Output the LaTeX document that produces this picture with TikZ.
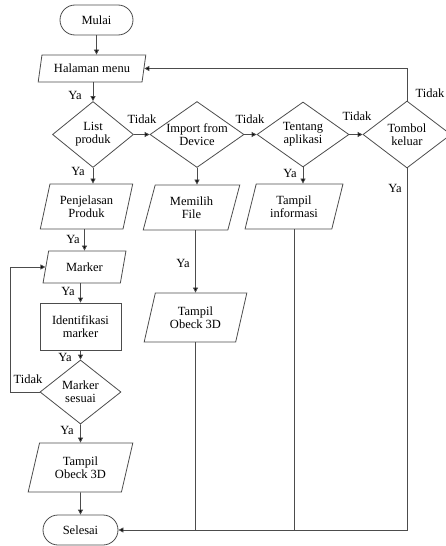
\documentclass[tikz,border=0pt]{standalone}
\usepackage{fontspec}
\setmainfont{Liberation Serif}
\usetikzlibrary{shapes.geometric,arrows.meta}
\newcommand{\flowfont}{\fontsize{12.5}{13}\selectfont}

\begin{document}
\begin{tikzpicture}[x=1pt,y=-1pt,
		line/.style={draw=black!70,line width=0.8pt},
		arr/.style={line,-{Triangle[length=5pt,width=5pt,fill=black]}},
		terminal/.style={line,rectangle,rounded corners=15pt,minimum height=30pt,font=\flowfont},
		io/.style={line,trapezium,trapezium left angle=72,trapezium right angle=108,trapezium stretches=true,align=center,inner sep=0pt,font=\flowfont},
		proc/.style={line,rectangle,align=center,font=\flowfont},
		cond/.style={line,diamond,align=center,inner sep=-5pt,font=\flowfont},
		lbl/.style={font=\flowfont,inner sep=0pt}]
			\useasboundingbox (0,0) rectangle (445,546);
			%start and end
			\node[terminal,minimum width=73pt] (mulai) at (96.5,20) {Mulai};
			\node[terminal,minimum width=75pt] (selesai) at (80.5,530) {Selesai};
			\node[io,minimum width=108pt,minimum height=27pt] (menu) at (92,68.5) {Halaman menu};
			
			%menu choices
			\node[cond,minimum width=81pt,minimum height=66pt] (list) at (93,134.5) {List\\produk};
			\node[cond,minimum width=94pt,minimum height=66pt] (import) at (197,134.5) {Import from\\Device};
			\node[cond,minimum width=92pt,minimum height=65pt] (tentang) at (303,134.5) {Tentang\\aplikasi};
			\node[cond,minimum width=88pt,minimum height=67pt] (tombol) at (407,134.5) {Tombol\\keluar};
			
			%list produk column
			\node[io,minimum width=93pt,minimum height=45pt] (penjelasan) at (86.5,206.5) {Penjelasan\\Produk};
			\node[io,minimum width=83pt,minimum height=32pt] (marker) at (84.5,267) {Marker};
			\node[proc,minimum width=81pt,minimum height=47pt] (identifikasi) at (80.5,326.5) {Identifikasi\\marker};
			\node[cond,minimum width=81pt,minimum height=64pt] (sesuai) at (80.5,392) {Marker\\sesuai};
			\node[io,minimum width=105pt,minimum height=49pt] (tampilA) at (80.5,467.5) {Tampil\\Obeck 3D};
			
			%import and tentang columns
			\node[io,minimum width=97pt,minimum height=45pt] (memilih) at (191.5,207.5) {Memilih\\File};
			\node[io,minimum width=103pt,minimum height=49pt] (tampilB) at (195.5,317.5) {Tampil\\Obeck 3D};
			\node[io,minimum width=98pt,minimum height=45pt] (info) at (294,206.5) {Tampil\\informasi};
			
			%arrows
			\draw[arr] (mulai.south) -- (mulai.south |- menu.north);
			\draw[arr] (menu.south -| list.north) -- (list.north);
			\draw[arr] (list.east) -- (import.west);
			\draw[arr] (import.east) -- (tentang.west);
			\draw[arr] (tentang.east) -- (tombol.west);
			\draw[arr] (tombol.north) |- (menu.east);
			\draw[arr] (list.south) -- (list.south |- penjelasan.north);
			\draw[arr] (penjelasan.south -| marker.north) -- (marker.north);
			\draw[arr] (identifikasi.north |- marker.south) -- (identifikasi.north);
			\draw[arr] (identifikasi) -- (sesuai);
			\draw[arr] (sesuai.west) -- ++(-29,0) |- (marker.west);
			\draw[arr] (sesuai) -- (tampilA);
			\draw[arr] (tampilA) -- (selesai);
			\draw[arr] (import.south) -- (import.south |- memilih.north);
			\draw[arr] (memilih.south -| tampilB) -- (tampilB.north -| tampilB);
			\draw[arr] (tentang.south) -- (tentang.south |- info.north);
			\draw[line] (info.south -| info) -- (info |- selesai);
			\draw[line] (tampilB.south -| tampilB) -- (tampilB |- selesai);
			\draw[arr] (tombol.south) |- (selesai.east);
			
			%labels
			\foreach \pos [count=\i] in {(75,95), (78,171), (290,173), (395,188), (73,239), (68,291), (65,357), (67,430), (183,263)}{
				\node[lbl] (ya\i) at \pos {Ya};
			}
			\foreach \pos [count=\i] in {(142,119), (250,119), (357,116), (430,93), (28,379)}{
				\node[lbl] (tidak\i) at \pos {Tidak};
			}
		\end{tikzpicture}
\end{document}
